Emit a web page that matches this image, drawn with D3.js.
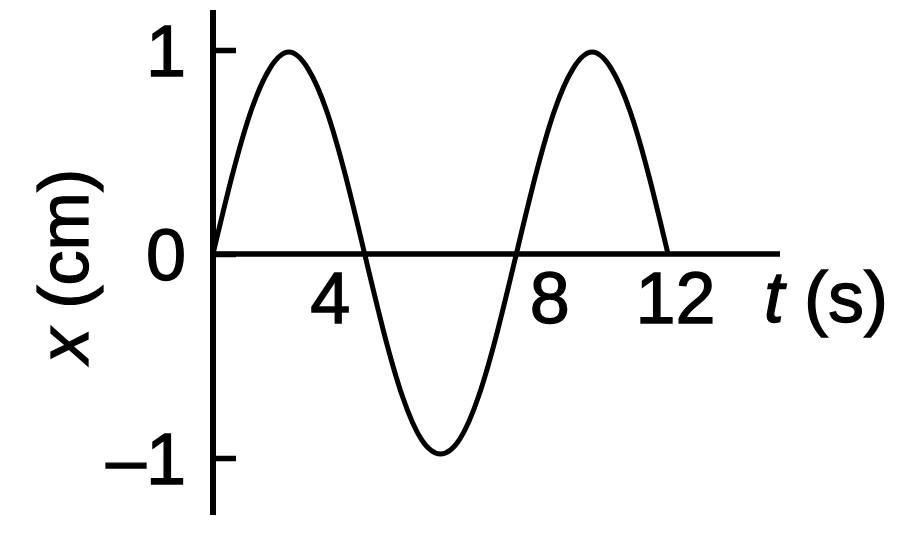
<!DOCTYPE html>
<html>
<head>
<meta charset="utf-8">
<script src="https://cdn.jsdelivr.net/npm/d3@7"></script>
<style>
  html, body { margin: 0; padding: 0; background: #fff; }
  svg { display: block; }
  text { font-family: "Liberation Sans", Arial, sans-serif; fill: #000; stroke: #000; stroke-width: 1.3px; }
</style>
</head>
<body>
<svg id="chart" width="900" height="535"></svg>
<script>
// time (s) and displacement (cm), every half second
var times = [0, 0.5, 1, 1.5, 2, 2.5, 3, 3.5, 4, 4.5, 5, 5.5, 6,
             6.5, 7, 7.5, 8, 8.5, 9, 9.5, 10, 10.5, 11, 11.5, 12];
var displacement = [0, 0.38, 0.7, 0.91, 0.99, 0.91, 0.7, 0.38, 0, -0.38, -0.7, -0.91, -0.98,
                    -0.91, -0.7, -0.38, 0, 0.38, 0.7, 0.91, 0.99, 0.91, 0.7, 0.38, 0];
var xTicks = [4, 8, 12];
var yTicks = [-1, 0, 1];
var xTickLabels = ["4", "8", "12"];
var yTickLabels = ["\u20131", "0", "1"];

var svg = d3.select("#chart");

var x = d3.scaleLinear().domain([0, 12]).range([213, 668]);
var y = d3.scaleLinear().domain([-1, 1]).range([458, 50]);

var FONT = 72;

// y axis: long spine, short ticks to the right, labels on the left
svg.append("line")
    .attr("x1", x(0)).attr("x2", x(0))
    .attr("y1", 10).attr("y2", 515)
    .attr("stroke", "#000").attr("stroke-width", 6);

var yAxis = d3.axisLeft(y)
    .tickValues(yTicks)
    .tickFormat(function(d, i) { return yTickLabels[i]; })
    .tickSize(-23)
    .tickPadding(27);

var yG = svg.append("g")
    .attr("transform", "translate(" + x(0) + ",0)")
    .call(yAxis);
yG.select(".domain").remove();
yG.selectAll(".tick line")
    .attr("stroke", "#000").attr("stroke-width", 5.5);
yG.selectAll(".tick text")
    .attr("font-size", FONT)
    .attr("font-family", "Liberation Sans, Arial, sans-serif")
    .attr("dy", "0.36em");

// x axis: plain line through zero, labels nudged off the curve
svg.append("line")
    .attr("x1", x(0)).attr("x2", 780)
    .attr("y1", y(0)).attr("y2", y(0))
    .attr("stroke", "#000").attr("stroke-width", 5.5);

var nudge = {4: -35, 8: 33, 12: 7};
var xAxis = d3.axisBottom(x)
    .tickValues(xTicks)
    .tickFormat(function(d, i) { return xTickLabels[i]; })
    .tickSize(0)
    .tickPadding(18);

var xG = svg.append("g")
    .attr("transform", "translate(0," + y(0) + ")")
    .call(xAxis);
xG.select(".domain").remove();
xG.selectAll(".tick text")
    .attr("font-size", FONT)
    .attr("font-family", "Liberation Sans, Arial, sans-serif")
    .attr("dx", function(d) { return nudge[d]; });

// curve
var line = d3.line()
    .x(function(d) { return x(d[0]); })
    .y(function(d) { return y(d[1]); })
    .curve(d3.curveNatural);

svg.append("path")
    .datum(d3.zip(times, displacement))
    .attr("d", line)
    .attr("fill", "none")
    .attr("stroke", "#000")
    .attr("stroke-width", 5)
    .attr("stroke-linejoin", "round");

// axis titles
var xTitle = svg.append("text")
    .attr("x", 764)
    .attr("y", 322)
    .attr("font-size", FONT);
xTitle.append("tspan").attr("font-style", "italic").text("t");
xTitle.append("tspan").text(" (s)");

var yTitle = svg.append("text")
    .attr("transform", "translate(88,266) rotate(-90)")
    .attr("text-anchor", "middle")
    .attr("font-size", 70);
yTitle.append("tspan").attr("font-style", "italic").text("x");
yTitle.append("tspan").text(" (cm)");
</script>
</body>
</html>
